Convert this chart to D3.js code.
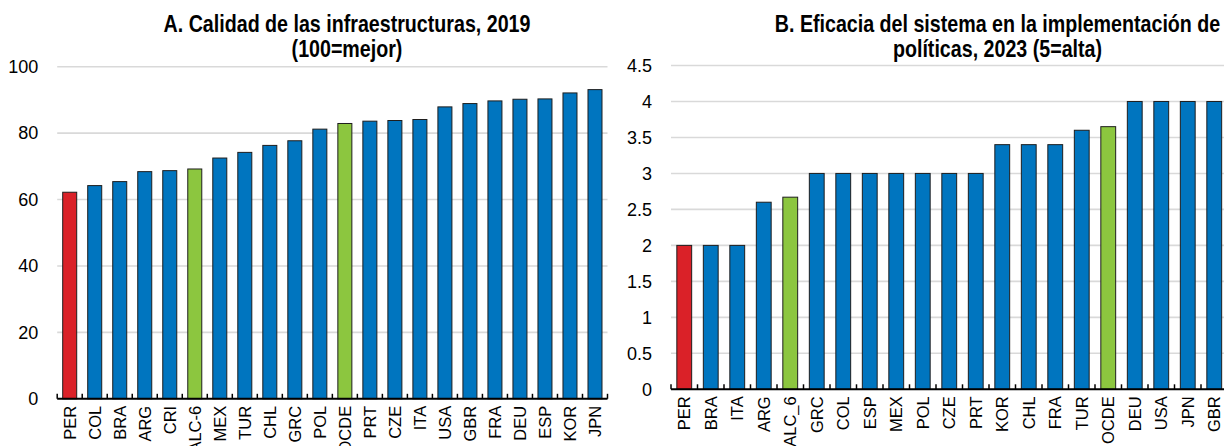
<!DOCTYPE html>
<html>
<head>
<meta charset="utf-8">
<script src="https://cdn.jsdelivr.net/npm/d3@7"></script>
<style>
  html, body { margin: 0; padding: 0; background: #fff; }
  svg { display: block; }
  .title { font-family: "Liberation Sans", Arial, sans-serif; font-weight: bold; font-size: 23px; fill: #000; }
  .ylab text { font-family: "Liberation Sans", Arial, sans-serif; font-size: 18px; fill: #000; }
  .xlab text { font-family: "Liberation Sans", Arial, sans-serif; font-size: 16.5px; fill: #000; }
</style>
</head>
<body>
<svg id="chart" width="1224" height="446"></svg>
<script>
// Panel A: infrastructure quality, 2019 (100 = best)
const categoriesA = ["PER","COL","BRA","ARG","CRI","ALC-6","MEX","TUR","CHL","GRC","POL","OCDE","PRT","CZE","ITA","USA","GBR","FRA","DEU","ESP","KOR","JPN"];
const valuesA = [62.2,64.2,65.4,68.4,68.7,69.2,72.5,74.2,76.3,77.7,81.2,82.9,83.6,83.8,84.1,87.9,88.9,89.7,90.2,90.3,92.1,93.1];
const ticksA = [0,20,40,60,80,100];
const titleA = ["A. Calidad de las infraestructuras, 2019", "(100=mejor)"];

// Panel B: effectiveness of the system in implementing policies, 2023 (5 = high)
const categoriesB = ["PER","BRA","ITA","ARG","ALC_6","GRC","COL","ESP","MEX","POL","CZE","PRT","KOR","CHL","FRA","TUR","OCDE","DEU","USA","JPN","GBR"];
const valuesB = [2,2,2,2.6,2.67,3,3,3,3,3,3,3,3.4,3.4,3.4,3.6,3.65,4,4,4,4];
const ticksB = [0,0.5,1,1.5,2,2.5,3,3.5,4,4.5];
const tickLabelsB = ["0","0.5","1","1.5","2","2.5","3","3.5","4","4.5"];
const titleB = ["B. Eficacia del sistema en la implementación de", "políticas, 2023 (5=alta)"];

const COLORS = { base: "#0075BF", peru: "#DA2128", agg: "#8CC63F" };
function barColor(c) {
  if (c === "PER") return COLORS.peru;
  if (c === "OCDE" || c === "ALC-6" || c === "ALC_6") return COLORS.agg;
  return COLORS.base;
}

const svg = d3.select("#chart");

// titles are set in a condensed bold: compress the regular bold face horizontally
const titleSqueeze = 0.855;

function panel(cfg) {
  const g = svg.append("g");
  const x = d3.scaleBand().domain(cfg.categories).range([cfg.left, cfg.right]).paddingInner(0.44).paddingOuter(0.22);
  const y = d3.scaleLinear().domain(cfg.domain).range([cfg.bottom, cfg.top]);

  // horizontal gridlines
  g.append("g").selectAll("line")
    .data(cfg.ticks.filter(t => t > 0))
    .join("line")
    .attr("x1", cfg.left).attr("x2", cfg.right)
    .attr("y1", d => y(d)).attr("y2", d => y(d))
    .attr("stroke", "#d9d9d9").attr("stroke-width", 1.6);

  // value axis labels
  const yAxis = d3.axisLeft(y).tickValues(cfg.ticks).tickSize(0).tickPadding(19)
    .tickFormat((d, i) => cfg.tickLabels ? cfg.tickLabels[i] : d3.format("d")(d));
  g.append("g").attr("class", "ylab").attr("transform", `translate(${cfg.left},0)`)
    .call(yAxis).call(a => a.select(".domain").remove());

  // bars
  g.append("g").selectAll("rect")
    .data(cfg.categories.map((c, i) => ({ c, v: cfg.values[i] })))
    .join("rect")
    .attr("x", d => x(d.c))
    .attr("y", d => y(d.v))
    .attr("width", x.bandwidth())
    .attr("height", d => y(0) - y(d.v))
    .attr("fill", d => barColor(d.c))
    .attr("stroke", "#1e1e1e").attr("stroke-width", 1);

  // category axis line
  g.append("line")
    .attr("x1", cfg.left).attr("x2", cfg.right)
    .attr("y1", y(0)).attr("y2", y(0))
    .attr("stroke", "#000").attr("stroke-width", 2);

  // boundary ticks between categories
  const bounds = cfg.categories.map(c => x(c) + x.bandwidth() / 2 - x.step() / 2);
  bounds.push(bounds[bounds.length - 1] + x.step());
  g.append("g").selectAll("line")
    .data(bounds)
    .join("line")
    .attr("x1", d => d).attr("x2", d => d)
    .attr("y1", y(0)).attr("y2", y(0) - 5)
    .attr("stroke", "#000").attr("stroke-width", 1.5);

  // category labels
  const xAxis = d3.axisBottom(x).tickSize(0).tickPadding(0);
  const xa = g.append("g").attr("class", "xlab").attr("transform", `translate(0,${y(0)})`).call(xAxis);
  xa.select(".domain").remove();
  xa.selectAll("text")
    .attr("transform", "rotate(-90)")
    .attr("text-anchor", "end")
    .attr("x", -7).attr("y", 0).attr("dy", "0.36em");

  // title
  const t = g.append("text").attr("class", "title").attr("text-anchor", "middle")
    .attr("transform", `translate(${cfg.titleX},0) scale(${titleSqueeze},1)`);
  cfg.title.forEach((line, i) => {
    t.append("tspan").attr("x", 0).attr("y", 32 + i * 25).text(line);
  });
}

panel({
  categories: categoriesA, values: valuesA, ticks: ticksA, domain: [0, 100],
  left: 57.2, right: 607.5, top: 66.7, bottom: 398.8, titleX: 347, title: titleA
});
panel({
  categories: categoriesB, values: valuesB, ticks: ticksB, tickLabels: tickLabelsB, domain: [0, 4.5],
  left: 671, right: 1227.5, top: 65.5, bottom: 389.3, titleX: 997.5, title: titleB
});
</script>
</body>
</html>
